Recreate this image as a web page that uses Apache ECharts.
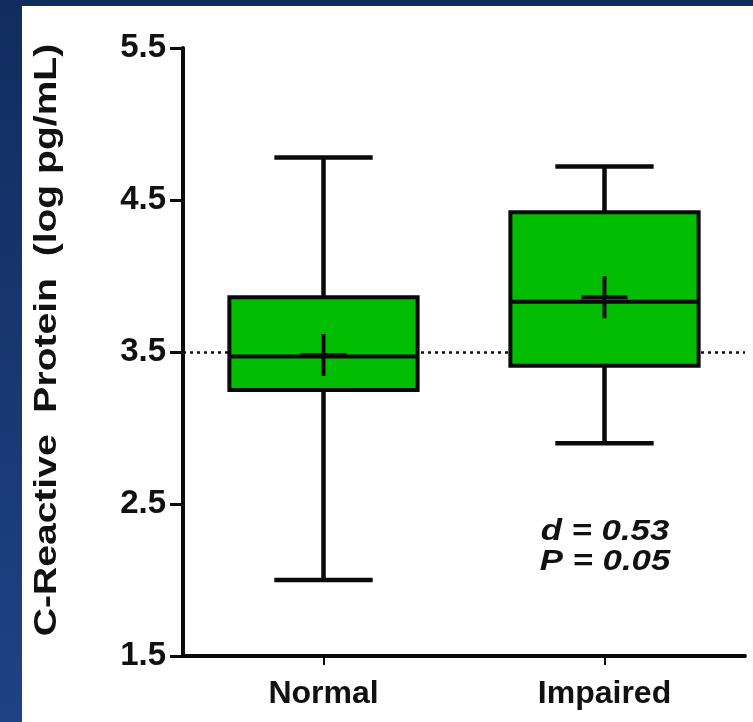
<!DOCTYPE html>
<html>
<head>
<meta charset="utf-8">
<script src="https://cdn.jsdelivr.net/npm/echarts@6/dist/echarts.min.js"></script>
<style>
html,body{margin:0;padding:0;background:#fff;}
#chart{width:753px;height:722px;}
</style>
</head>
<body>
<div id="chart"></div>
<script>
// ---- data ----
const categories = ['Normal', 'Impaired'];
const whiskerMin = [2.0, 2.9];
const q1 = [3.25, 3.41];
const median = [3.47, 3.83];
const q3 = [3.86, 4.42];
const whiskerMax = [4.78, 4.72];
const means = [3.48, 3.86];
const refLine = 3.5;
const yMin = 1.5, yMax = 5.5, yStep = 1;
const yTitle = 'C-Reactive  Protein  (log pg/mL)';
const statLines = ['d = 0.53', 'P = 0.05'];

const FONT = 'Liberation Sans, Arial, sans-serif';
const boxData = categories.map((c, i) => [i, whiskerMin[i], q1[i], median[i], q3[i], whiskerMax[i], means[i]]);

const chart = echarts.init(document.getElementById('chart'), null, {renderer: 'canvas'});

function renderBox(params, api) {
  const i = api.value(0);
  const band = api.size([1, 0])[0];
  const half = band * 0.335;
  const capHalf = band * 0.175;
  const crossH = 23, crossV = 21;
  const pMin = api.coord([i, api.value(1)]);
  const pQ1 = api.coord([i, api.value(2)]);
  const pMed = api.coord([i, api.value(3)]);
  const pQ3 = api.coord([i, api.value(4)]);
  const pMax = api.coord([i, api.value(5)]);
  const pMean = api.coord([i, api.value(6)]);
  const cx = pMed[0];
  const lw = 4.5;
  const ls = {stroke: '#0a0a0a', lineWidth: lw, lineCap: 'butt'};
  return {
    type: 'group',
    children: [
      {type: 'line', shape: {x1: cx, y1: pMax[1], x2: cx, y2: pQ3[1]}, style: ls},
      {type: 'line', shape: {x1: cx, y1: pQ1[1], x2: cx, y2: pMin[1]}, style: ls},
      {type: 'line', shape: {x1: cx - capHalf, y1: pMax[1], x2: cx + capHalf, y2: pMax[1]}, style: ls},
      {type: 'line', shape: {x1: cx - capHalf, y1: pMin[1], x2: cx + capHalf, y2: pMin[1]}, style: ls},
      {type: 'rect', shape: {x: cx - half, y: pQ3[1], width: half * 2, height: pQ1[1] - pQ3[1]},
        style: {fill: '#03bd03', stroke: '#0a0a0a', lineWidth: 4}},
      {type: 'line', shape: {x1: cx - half, y1: pMed[1], x2: cx + half, y2: pMed[1]}, style: {stroke: '#0a0a0a', lineWidth: 4}},
      {type: 'line', shape: {x1: pMean[0] - crossH, y1: pMean[1], x2: pMean[0] + crossH, y2: pMean[1]}, style: {stroke: '#0a0a0a', lineWidth: 4}},
      {type: 'line', shape: {x1: pMean[0], y1: pMean[1] - crossV, x2: pMean[0], y2: pMean[1] + crossV}, style: {stroke: '#0a0a0a', lineWidth: 4}}
    ]
  };
}

const option = {
  backgroundColor: '#ffffff',
  animation: false,
  grid: {left: 183, top: 48, right: 8, bottom: 66, containLabel: false, outerBoundsMode: 'none'},
  xAxis: {
    type: 'category',
    data: categories,
    boundaryGap: true,
    axisLine: {lineStyle: {color: '#0a0a0a', width: 4}},
    axisTick: {show: true, alignWithLabel: true, length: 9, lineStyle: {color: '#0a0a0a', width: 2}},
    axisLabel: {color: '#111', fontFamily: FONT, fontWeight: 'bold', fontSize: 32, margin: 22},
    splitLine: {show: false}
  },
  yAxis: {
    type: 'value',
    min: yMin, max: yMax, interval: yStep,
    axisLine: {show: true, lineStyle: {color: '#0a0a0a', width: 4}},
    axisTick: {show: true, inside: false, length: 13, lineStyle: {color: '#0a0a0a', width: 3}},
    axisLabel: {color: '#111', fontFamily: FONT, fontWeight: 'bold', fontSize: 33, margin: 17,
      formatter: v => v.toFixed(1)},
    splitLine: {show: false}
  },
  graphic: [
    {type: 'rect', z: 100, shape: {x: 0, y: 0, width: 753, height: 6}, style: {fill: '#112d5f'}},
    {type: 'rect', z: 100, shape: {x: 0, y: 0, width: 22, height: 722},
      style: {fill: new echarts.graphic.LinearGradient(0, 0, 0, 1, [{offset: 0, color: '#112d5f'}, {offset: 1, color: '#1f4285'}])}},
    {type: 'text', z: 100, x: 47, y: 340, rotation: Math.PI / 2, scaleX: 1.26,
      style: {text: yTitle, font: 'bold 31px ' + FONT, fill: '#111', textAlign: 'center', textVerticalAlign: 'middle'}},
    {type: 'text', z: 100, x: 605, y: 532, scaleX: 1.2, style: {text: statLines[0], font: 'italic bold 29px ' + FONT, fill: '#111', textAlign: 'center', textVerticalAlign: 'middle'}},
    {type: 'text', z: 100, x: 605, y: 562, scaleX: 1.2, style: {text: statLines[1], font: 'italic bold 29px ' + FONT, fill: '#111', textAlign: 'center', textVerticalAlign: 'middle'}}
  ],
  series: [
    {
      type: 'line', data: [], z: 1,
      markLine: {
        silent: true, symbol: ['none', 'none'], label: {show: false},
        lineStyle: {color: '#111', type: [3, 4], width: 2.5},
        data: [{yAxis: refLine}]
      }
    },
    {
      type: 'custom', z: 5,
      data: boxData,
      encode: {x: 0, y: [1, 2, 3, 4, 5, 6]},
      renderItem: renderBox
    }
  ]
};
chart.setOption(option);
</script>
</body>
</html>
